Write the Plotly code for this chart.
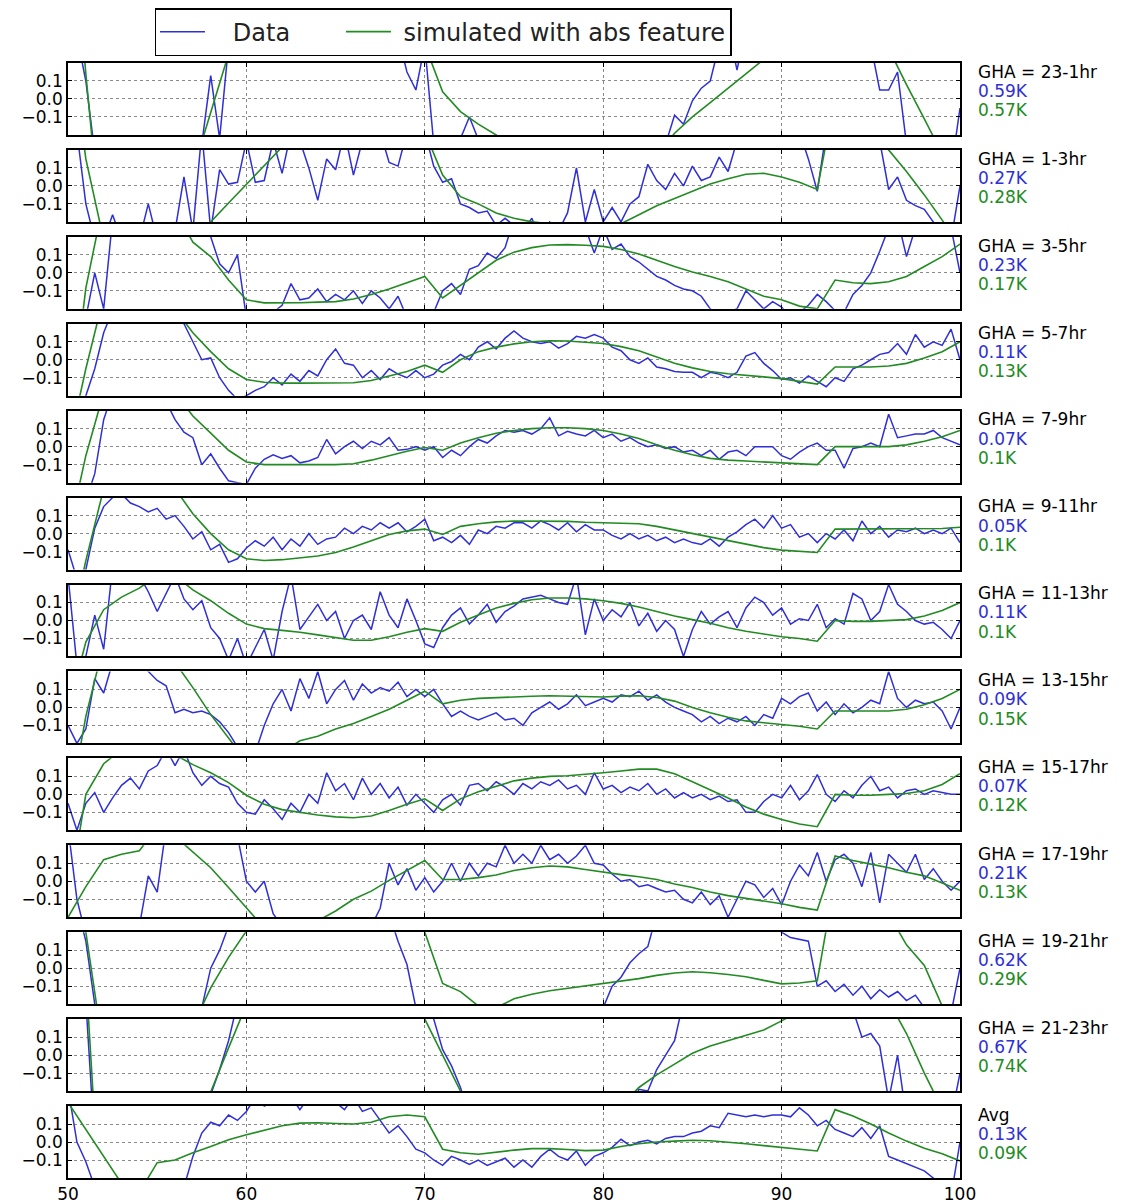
import numpy as np
import plotly.graph_objects as go
from plotly.subplots import make_subplots

# frequency grids (MHz)
freq_data = np.arange(50.0, 100.01, 0.5)
freq_sim = np.arange(50.0, 100.01, 1.0)

panel_labels = ["GHA = 23-1hr", "GHA = 1-3hr", "GHA = 3-5hr", "GHA = 5-7hr", "GHA = 7-9hr",
                "GHA = 9-11hr", "GHA = 11-13hr", "GHA = 13-15hr", "GHA = 15-17hr",
                "GHA = 17-19hr", "GHA = 19-21hr", "GHA = 21-23hr", "Avg"]
data_rms = ["0.59K", "0.27K", "0.23K", "0.11K", "0.07K", "0.05K", "0.11K", "0.09K", "0.07K",
            "0.21K", "0.62K", "0.67K", "0.13K"]
sim_rms = ["0.57K", "0.28K", "0.17K", "0.13K", "0.1K", "0.1K", "0.1K", "0.15K", "0.12K",
           "0.13K", "0.29K", "0.74K", "0.09K"]

# ---- residuals (K), data at 0.5 MHz steps ----
data_23_1 = [0.5, 0.35, 0.1, -0.3, -0.4, -0.4, -0.4, -0.4, -0.4, -0.4,
             -0.4, -0.4, -0.4, -0.4, -0.4, -0.25, 0.13, -0.22, 0.3, 0.4,
             0.4, 0.4, 0.4, 0.4, 0.4, 0.4, 0.4, 0.4, 0.4, 0.4,
             0.4, 0.4, 0.4, 0.4, 0.4, 0.4, 0.4, 0.35, 0.15, 0.05,
             0.3, -0.25, -0.3, -0.28, -0.22, -0.1, -0.25, -0.35, -0.4, -0.4,
             -0.4, -0.4, -0.4, -0.4, -0.4, -0.4, -0.4, -0.4, -0.4, -0.4,
             -0.4, -0.4, -0.4, -0.4, -0.4, -0.4, -0.4, -0.25, -0.09, -0.14,
             -0.01, 0.06, 0.1, 0.3, 0.4, 0.16, 0.4, 0.4, 0.4, 0.4,
             0.4, 0.4, 0.4, 0.4, 0.4, 0.4, 0.4, 0.4, 0.4, 0.4,
             0.3, 0.05, 0.05, 0.15, -0.25, -0.4, -0.4, -0.4, -0.4, -0.4,
             -0.05]
data_1_3 = [0.5, 0.3, -0.1, -0.3, -0.3, -0.16, -0.3, -0.22, -0.3, -0.1,
            -0.3, -0.3, -0.25, 0.05, -0.25, 0.3, -0.25, 0.09, 0.01, 0.02,
            0.25, 0.02, 0.03, 0.25, 0.07, 0.3, 0.25, 0.1, -0.08, 0.15,
            0.09, 0.3, 0.06, 0.25, 0.3, 0.3, 0.13, 0.11, 0.3, 0.25,
            0.3, 0.11, 0.02, 0.04, -0.1, -0.12, -0.15, -0.14, -0.22, -0.18,
            -0.22, -0.25, -0.18, -0.3, -0.2, -0.25, -0.15, 0.1, -0.2, -0.02,
            -0.2, -0.12, -0.2, -0.1, -0.06, 0.12, 0.03, -0.02, 0.07, 0.0,
            0.11, 0.03, 0.05, 0.16, 0.08, 0.25, 0.3, 0.3, 0.3, 0.3,
            0.3, 0.3, 0.3, 0.15, -0.03, 0.3, 0.3, 0.3, 0.3, 0.3,
            0.3, 0.25, -0.02, 0.05, -0.08, -0.11, -0.13, -0.2, -0.25, -0.3,
            0.0]
data_3_5 = [-0.4, -0.3, -0.25, 0.0, -0.2, 0.3, 0.4, 0.4, 0.4, 0.4,
            0.4, 0.4, 0.4, 0.4, 0.4, 0.3, 0.2, 0.05, 0.0, 0.1,
            -0.25, -0.3, -0.3, -0.22, -0.18, -0.06, -0.15, -0.14, -0.09, -0.16,
            -0.12, -0.15, -0.1, -0.17, -0.1, -0.14, -0.2, -0.13, -0.25, -0.3,
            -0.3, -0.22, -0.1, -0.06, -0.12, 0.02, 0.04, 0.11, 0.08, 0.14,
            0.3, 0.3, 0.3, 0.3, 0.3, 0.3, 0.3, 0.3, 0.25, 0.11,
            0.25, 0.13, 0.16, 0.09, 0.06, 0.02, -0.02, -0.04, -0.07, -0.09,
            -0.1, -0.13, -0.2, -0.24, -0.22, -0.2, -0.1, -0.15, -0.2, -0.16,
            -0.19, -0.25, -0.22, -0.18, -0.12, -0.16, -0.21, -0.22, -0.12, -0.07,
            0.0, 0.12, 0.25, 0.3, 0.09, 0.25, 0.3, 0.3, 0.3, 0.25,
            0.0]
data_5_7 = [-0.4, -0.35, -0.2, -0.05, 0.15, 0.3, 0.4, 0.4, 0.4, 0.4,
            0.4, 0.35, 0.3, 0.2, 0.1, 0.0, 0.01, -0.1, -0.17, -0.22,
            -0.2, -0.17, -0.15, -0.1, -0.14, -0.08, -0.12, -0.06, -0.09, 0.0,
            0.06, -0.02, -0.03, -0.1, -0.06, -0.11, -0.05, -0.08, -0.1, -0.06,
            -0.1, -0.08, -0.03, -0.01, 0.03, 0.0, 0.07, 0.1, 0.06, 0.12,
            0.16, 0.12, 0.1, 0.09, 0.1, 0.065, 0.09, 0.13, 0.12, 0.14,
            0.12, 0.07, 0.05, 0.0, -0.02, 0.01, -0.04, -0.05, -0.065, -0.07,
            -0.07, -0.1, -0.07, -0.08, -0.1, -0.07, 0.02, 0.04, -0.02, -0.06,
            -0.11, -0.1, -0.13, -0.09, -0.12, -0.15, -0.1, -0.12, -0.05, -0.03,
            0.0, 0.03, 0.04, 0.09, 0.03, 0.14, 0.07, 0.1, 0.08, 0.17,
            0.0]
data_7_9 = [-0.4, -0.35, -0.3, -0.15, 0.15, 0.3, 0.4, 0.4, 0.4, 0.4,
            0.4, 0.25, 0.15, 0.08, 0.05, -0.1, -0.04, -0.12, -0.19, -0.2,
            -0.21, -0.12, -0.07, -0.045, -0.065, -0.05, -0.09, -0.08, -0.06, 0.04,
            -0.04, 0.0, 0.03, -0.01, 0.03, 0.01, 0.05, -0.02, -0.015, 0.0,
            -0.02, 0.0, -0.06, -0.02, -0.05, 0.0, 0.04, 0.02, 0.06, 0.09,
            0.08, 0.09, 0.07, 0.1, 0.16, 0.06, 0.085, 0.07, 0.06, 0.09,
            0.05, 0.07, 0.03, 0.05, 0.02, 0.0, 0.01, -0.01, 0.0, -0.03,
            -0.02, -0.05, -0.02, -0.07, -0.03, -0.02, -0.05, 0.0, 0.0, 0.0,
            -0.05, -0.07, -0.03, 0.0, 0.02, -0.02, -0.02, -0.12, -0.01, 0.0,
            0.02, 0.0, 0.18, 0.05, 0.06, 0.07, 0.07, 0.09, 0.05, 0.03,
            0.01]
data_9_11 = [-0.09, -0.25, -0.2, 0.03, 0.15, 0.2, 0.22, 0.17, 0.15, 0.12,
             0.14, 0.08, 0.1, 0.04, -0.03, 0.01, -0.09, -0.06, -0.16, -0.14,
             -0.08, -0.04, -0.07, -0.02, -0.09, -0.03, -0.07, 0.0, -0.06, -0.03,
             -0.02, 0.03, 0.0, 0.04, 0.02, 0.06, 0.03, 0.06, 0.01, 0.04,
             0.08, -0.04, -0.02, -0.05, -0.01, -0.06, 0.02, 0.0, 0.04, 0.03,
             0.06, 0.06, 0.03, 0.07, 0.05, 0.02, 0.06, 0.01, 0.05, 0.02,
             0.02, -0.01, -0.03, 0.0, -0.03, -0.01, -0.04, -0.02, -0.05, -0.03,
             -0.05, -0.06, -0.03, -0.07, -0.02, 0.01, 0.05, 0.08, 0.03, 0.1,
             0.03, 0.05, -0.02, 0.0, -0.05, 0.0, -0.03, 0.02, -0.04, 0.07,
             0.0, 0.04, -0.02, 0.02, 0.01, 0.03, 0.0, 0.02, 0.0, 0.03,
             -0.05]
data_11_13 = [0.25, -0.25, -0.2, 0.03, -0.16, 0.3, 0.25, 0.3, 0.25, 0.16,
              0.05, 0.16, 0.25, 0.12, 0.06, 0.11, -0.04, -0.1, -0.22, -0.1,
              -0.25, -0.15, -0.05, -0.22, 0.05, 0.25, -0.05, 0.02, 0.09, 0.0,
              0.05, -0.1, 0.0, 0.03, -0.05, 0.16, 0.03, -0.04, 0.12, 0.0,
              -0.13, -0.15, -0.04, 0.03, 0.07, -0.02, 0.03, 0.09, -0.01, 0.05,
              0.08, 0.12, 0.13, 0.14, 0.12, 0.1, 0.09, 0.25, -0.08, 0.12,
              0.0, 0.06, 0.02, 0.1, -0.03, 0.04, -0.06, 0.0, -0.05, -0.2,
              -0.05, 0.05, -0.02, 0.02, 0.05, -0.04, 0.07, 0.13, 0.1, 0.03,
              0.07, -0.02, 0.01, 0.0, 0.09, -0.04, 0.01, -0.02, 0.15, 0.12,
              0.0, 0.05, 0.2, 0.09, 0.05, 0.0, -0.02, -0.01, -0.05, -0.1,
              0.0]
data_13_15 = [-0.1, -0.2, -0.12, 0.16, 0.08, 0.25, 0.3, 0.3, 0.3, 0.2,
              0.15, 0.12, -0.03, -0.01, -0.03, -0.02, -0.04, -0.08, -0.14, -0.22,
              -0.3, -0.25, -0.1, 0.02, 0.1, -0.02, 0.16, 0.05, 0.2, 0.02,
              0.1, 0.15, 0.04, 0.13, 0.08, 0.11, 0.09, 0.14, 0.06, 0.1,
              0.06, 0.1, 0.02, -0.05, -0.02, -0.05, -0.07, -0.05, -0.03, -0.07,
              -0.06, -0.1, -0.03, 0.0, 0.03, -0.01, 0.02, 0.07, 0.01, 0.03,
              0.05, 0.03, 0.07, 0.06, 0.09, 0.04, 0.07, 0.03, 0.0, -0.02,
              -0.04, -0.08, -0.05, -0.09, -0.06, -0.08, -0.05, -0.1, -0.04, -0.06,
              0.05, 0.02, 0.06, 0.08, -0.02, 0.03, -0.04, 0.02, -0.03, 0.0,
              0.04, 0.02, 0.2, 0.05, 0.0, 0.04, 0.02, 0.03, -0.02, -0.12,
              0.0]
data_15_17 = [-0.05, -0.2, -0.05, 0.01, -0.1, -0.02, 0.05, 0.09, 0.03, 0.13,
              0.16, 0.25, 0.16, 0.25, 0.12, 0.05, 0.1, 0.06, 0.04, -0.05,
              -0.1, -0.11, -0.03, -0.08, -0.14, -0.05, -0.1, 0.0, -0.05, 0.12,
              0.02, 0.06, -0.03, 0.09, 0.0, 0.06, -0.02, 0.04, -0.06, 0.0,
              -0.05, -0.1, -0.03, 0.0, -0.06, 0.05, 0.06, 0.02, 0.07, 0.04,
              0.0, 0.06, 0.03, 0.07, 0.05, 0.08, 0.03, 0.05, 0.0, 0.12,
              0.03, 0.05, 0.01, 0.04, 0.02, 0.06, 0.0, 0.03, -0.02, 0.01,
              -0.02, 0.0, -0.03, -0.01, -0.04, -0.03, -0.1, -0.1, -0.04, 0.0,
              -0.02, 0.05, -0.03, 0.02, 0.11, 0.0, -0.04, 0.02, -0.02, 0.05,
              0.1, 0.02, 0.04, -0.02, 0.02, 0.03, 0.0, 0.02, 0.01, 0.0,
              0.0]
data_17_19 = [0.3, -0.1, -0.3, -0.35, -0.35, -0.35, -0.35, -0.35, -0.25, 0.03,
              -0.06, 0.3, 0.35, 0.35, 0.35, 0.35, 0.35, 0.35, 0.3, 0.25,
              0.0, -0.06, 0.0, -0.18, -0.25, -0.3, -0.3, -0.3, -0.3, -0.3,
              -0.3, -0.3, -0.21, -0.3, -0.25, -0.15, 0.1, -0.02, 0.07, -0.05,
              0.02, -0.06, 0.0, 0.1, 0.0, 0.1, 0.03, 0.1, 0.08, 0.2,
              0.1, 0.15, 0.1, 0.2, 0.12, 0.15, 0.1, 0.14, 0.2, 0.1,
              0.09, 0.04, 0.0, 0.01, -0.03, -0.02, -0.04, -0.06, -0.05, -0.1,
              -0.12, -0.06, -0.13, -0.08, -0.2, -0.1, 0.0, -0.02, -0.09, -0.04,
              -0.13, 0.0, 0.09, 0.03, 0.16, 0.0, 0.12, 0.15, 0.1, -0.03,
              0.16, -0.12, 0.15, 0.1, 0.05, 0.15, 0.01, 0.07, 0.0, -0.05,
              0.0]
data_19_21 = [0.6, 0.35, 0.15, -0.2, -0.5, -0.5, -0.5, -0.5, -0.5, -0.5,
              -0.5, -0.5, -0.5, -0.5, -0.5, -0.22, 0.0, 0.1, 0.25, 0.4,
              0.5, 0.5, 0.5, 0.5, 0.5, 0.5, 0.5, 0.5, 0.5, 0.5,
              0.5, 0.5, 0.5, 0.5, 0.5, 0.5, 0.3, 0.15, 0.02, -0.22,
              -0.5, -0.5, -0.5, -0.5, -0.5, -0.5, -0.5, -0.5, -0.5, -0.5,
              -0.5, -0.5, -0.5, -0.5, -0.5, -0.5, -0.5, -0.5, -0.5, -0.5,
              -0.22, -0.1, -0.05, 0.03, 0.08, 0.12, 0.3, 0.5, 0.5, 0.5,
              0.5, 0.5, 0.5, 0.5, 0.5, 0.5, 0.5, 0.5, 0.3, 0.25,
              0.2, 0.17, 0.16, 0.15, -0.1, -0.07, -0.13, -0.09, -0.15, -0.1,
              -0.17, -0.12, -0.16, -0.13, -0.18, -0.15, -0.22, -0.3, -0.3, -0.25,
              0.0]
data_21_23 = [1.0, 0.6, 0.3, -0.5, -0.5, -0.5, -0.5, -0.5, -0.5, -0.5,
              -0.5, -0.5, -0.5, -0.5, -0.5, -0.5, -0.22, -0.08, 0.08, 0.25,
              0.5, 0.5, 0.5, 0.5, 0.5, 0.5, 0.5, 0.5, 0.5, 0.5,
              0.5, 0.5, 0.5, 0.5, 0.5, 0.5, 0.5, 0.5, 0.5, 0.5,
              0.35, 0.2, 0.03, -0.06, -0.18, -0.35, -0.5, -0.5, -0.5, -0.5,
              -0.5, -0.5, -0.5, -0.5, -0.5, -0.5, -0.5, -0.5, -0.5, -0.5,
              -0.5, -0.5, -0.5, -0.3, -0.19, -0.2, -0.08, 0.0, 0.08, 0.3,
              0.5, 0.5, 0.5, 0.5, 0.5, 0.5, 0.5, 0.5, 0.5, 0.5,
              0.5, 0.5, 0.5, 0.5, 0.5, 0.5, 0.5, 0.5, 0.25, 0.1,
              0.12, 0.05, -0.25, 0.0, -0.35, -0.35, -0.35, -0.35, -0.35, -0.35,
              -0.1]
data_avg = [0.3, 0.0, -0.11, -0.25, -0.3, -0.3, -0.3, -0.3, -0.3, -0.3,
            -0.3, -0.3, -0.3, -0.25, -0.08, 0.05, 0.11, 0.09, 0.15, 0.12,
            0.17, 0.25, 0.2, 0.22, 0.3, 0.25, 0.18, 0.25, 0.22, 0.3,
            0.22, 0.18, 0.25, 0.17, 0.19, 0.12, 0.05, 0.09, 0.03, -0.04,
            -0.06, -0.1, -0.13, -0.08, -0.1, -0.125, -0.1, -0.13, -0.11, -0.09,
            -0.14, -0.1, -0.14, -0.08, -0.04, -0.08, -0.1, -0.05, -0.13, -0.08,
            -0.06, -0.03, 0.015, -0.02, 0.0, 0.01, -0.01, 0.02, 0.03, 0.03,
            0.05, 0.06, 0.09, 0.08, 0.16, 0.15, 0.14, 0.15, 0.14, 0.15,
            0.15, 0.14, 0.19, 0.15, 0.09, 0.12, 0.07, 0.05, 0.03, 0.08,
            0.02, 0.09, -0.08, -0.1, -0.12, -0.14, -0.16, -0.2, -0.25, -0.3,
            0.0]

# ---- simulated residuals (K), 1 MHz steps ----
sim_23_1 = [1.3, 0.14, -0.9, -1.2, -1.3, -1.2, -0.9, -0.4, -0.07, 0.25,
            0.5, 0.7, 0.8, 0.9, 0.9, 0.9, 0.8, 0.7, 0.5, 0.35,
            0.3, 0.04, -0.07, -0.14, -0.2, -0.27, -0.35, -0.42, -0.48, -0.5,
            -0.5, -0.48, -0.42, -0.32, -0.19, -0.1, -0.02, 0.06, 0.14, 0.22,
            0.3, 0.35, 0.45, 0.5, 0.5, 0.45, 0.28, 0.08, -0.11, -0.3,
            -0.5]
sim_1_3 = [0.9, 0.15, -0.3, -0.6, -0.7, -0.7, -0.6, -0.4, -0.2, -0.095,
           0.01, 0.115, 0.22, 0.32, 0.4, 0.45, 0.45, 0.42, 0.38, 0.33,
           0.3, 0.06, -0.06, -0.1, -0.15, -0.18, -0.2, -0.21, -0.21, -0.21,
           -0.22, -0.21, -0.16, -0.11, -0.07, -0.03, 0.01, 0.04, 0.065, 0.07,
           0.05, 0.02, -0.02, 0.5, 0.45, 0.3, 0.2, 0.08, -0.05, -0.19,
           -0.33]
sim_3_5 = [-0.9, -0.085, 0.4, 0.7, 0.8, 0.6, 0.35, 0.17, 0.09, -0.04,
           -0.15, -0.167, -0.168, -0.166, -0.163, -0.16, -0.145, -0.12, -0.09, -0.055,
           -0.02, -0.14, -0.07, 0.0, 0.07, 0.115, 0.14, 0.155, 0.157, 0.153,
           0.147, 0.13, 0.105, 0.07, 0.035, 0.005, -0.02, -0.05, -0.09, -0.13,
           -0.15, -0.185, -0.2, -0.04, -0.055, -0.06, -0.05, -0.02, 0.035, 0.09,
           0.16]
sim_5_7 = [-0.5, -0.05, 0.35, 0.6, 0.6, 0.45, 0.28, 0.15, 0.045, -0.05,
           -0.11, -0.125, -0.13, -0.13, -0.13, -0.13, -0.128, -0.115, -0.09, -0.065,
           -0.03, -0.07, 0.0, 0.045, 0.07, 0.088, 0.1, 0.105, 0.104, 0.098,
           0.09, 0.073, 0.05, 0.015, -0.02, -0.045, -0.065, -0.078, -0.085, -0.095,
           -0.105, -0.12, -0.135, -0.04, -0.04, -0.04, -0.035, -0.02, 0.01, 0.045,
           0.1]
sim_7_9 = [-0.5, -0.05, 0.3, 0.5, 0.55, 0.45, 0.3, 0.17, 0.075, -0.02,
           -0.085, -0.1, -0.1, -0.1, -0.1, -0.1, -0.095, -0.075, -0.05, -0.025,
           -0.005, -0.02, 0.02, 0.05, 0.075, 0.09, 0.1, 0.105, 0.105, 0.1,
           0.09, 0.07, 0.045, 0.01, -0.02, -0.045, -0.065, -0.075, -0.08, -0.085,
           -0.09, -0.095, -0.1, 0.0, 0.0, 0.0, 0.0, 0.01, 0.03, 0.055,
           0.09]
sim_9_11 = [-0.6, -0.15, 0.25, 0.5, 0.55, 0.45, 0.25, 0.11, 0.0, -0.09,
            -0.14, -0.15, -0.145, -0.135, -0.125, -0.105, -0.075, -0.04, -0.005, 0.015,
            0.025, -0.005, 0.04, 0.055, 0.065, 0.07, 0.07, 0.07, 0.068, 0.063,
            0.06, 0.06, 0.055, 0.04, 0.02, 0.0, -0.02, -0.04, -0.06, -0.078,
            -0.092, -0.1, -0.105, 0.025, 0.025, 0.025, 0.025, 0.025, 0.025, 0.028,
            0.035]
sim_11_13 = [-0.5, -0.12, 0.06, 0.13, 0.18, 0.25, 0.25, 0.17, 0.11, 0.04,
             -0.02, -0.045, -0.055, -0.065, -0.08, -0.095, -0.11, -0.11, -0.09, -0.065,
             -0.045, -0.06, -0.01, 0.03, 0.07, 0.095, 0.115, 0.125, 0.125, 0.12,
             0.11, 0.095, 0.075, 0.05, 0.025, 0.005, -0.015, -0.04, -0.06, -0.075,
             -0.09, -0.1, -0.115, 0.0, -0.005, -0.005, 0.0, 0.005, 0.025, 0.055,
             0.1]
sim_13_15 = [-0.6, -0.05, 0.35, 0.6, 0.6, 0.45, 0.25, 0.11, -0.04, -0.17,
             -0.3, -0.33, -0.25, -0.185, -0.16, -0.12, -0.09, -0.05, -0.01, 0.04,
             0.09, 0.02, 0.04, 0.05, 0.055, 0.06, 0.062, 0.065, 0.063, 0.058,
             0.058, 0.063, 0.065, 0.055, 0.035, 0.0, -0.03, -0.055, -0.075, -0.085,
             -0.095, -0.105, -0.12, -0.02, -0.02, -0.02, -0.02, -0.01, 0.015, 0.05,
             0.1]
sim_15_17 = [-0.6, 0.0, 0.17, 0.25, 0.3, 0.28, 0.22, 0.165, 0.12, 0.065,
             -0.005, -0.055, -0.085, -0.1, -0.115, -0.125, -0.13, -0.12, -0.09, -0.055,
             -0.025, -0.09, -0.025, 0.015, 0.045, 0.075, 0.09, 0.1, 0.103, 0.11,
             0.12, 0.13, 0.14, 0.14, 0.115, 0.07, 0.025, -0.02, -0.07, -0.11,
             -0.14, -0.165, -0.18, 0.0, -0.005, -0.005, 0.0, 0.005, 0.02, 0.055,
             0.115]
sim_17_19 = [-0.2, -0.03, 0.12, 0.15, 0.17, 0.3, 0.25, 0.16, 0.075, -0.035,
             -0.15, -0.26, -0.3, -0.28, -0.22, -0.165, -0.1, -0.055, 0.005, 0.06,
             0.115, 0.01, 0.01, 0.02, 0.035, 0.06, 0.075, 0.085, 0.08, 0.065,
             0.05, 0.037, 0.025, 0.01, -0.015, -0.035, -0.06, -0.08, -0.095, -0.11,
             -0.125, -0.145, -0.16, 0.14, 0.115, 0.095, 0.075, 0.05, 0.03, -0.01,
             -0.05]
sim_19_21 = [0.8, 0.2, -0.47, -0.9, -1.0, -0.9, -0.7, -0.32, -0.11, 0.06,
             0.21, 0.4, 0.5, 0.6, 0.65, 0.7, 0.7, 0.65, 0.55, 0.4,
             0.2, -0.085, -0.13, -0.21, -0.22, -0.17, -0.145, -0.125, -0.112, -0.1,
             -0.088, -0.073, -0.058, -0.04, -0.027, -0.02, -0.025, -0.035, -0.048, -0.068,
             -0.087, -0.082, -0.07, 0.5, 0.6, 0.5, 0.3, 0.13, 0.015, -0.21,
             -0.45]
sim_21_23 = [1.3, 0.45, -1.2, -1.6, -1.6, -1.4, -1.0, -0.45, -0.2, 0.04,
             0.28, 0.5, 0.6, 0.7, 0.7, 0.7, 0.65, 0.6, 0.5, 0.4,
             0.2, 0.0, -0.2, -0.38, -0.5, -0.55, -0.6, -0.6, -0.55, -0.5,
             -0.4, -0.28, -0.18, -0.11, -0.05, 0.01, 0.05, 0.08, 0.11, 0.14,
             0.19, 0.25, 0.3, 0.4, 0.5, 0.45, 0.3, 0.12, -0.1, -0.3,
             -0.5]
sim_avg = [0.22, 0.07, -0.08, -0.23, -0.28, -0.115, -0.1, -0.06, -0.025, 0.012,
           0.04, 0.065, 0.09, 0.105, 0.107, 0.103, 0.1, 0.11, 0.14, 0.15,
           0.14, -0.04, -0.06, -0.068, -0.055, -0.045, -0.037, -0.037, -0.042, -0.048,
           -0.045, -0.025, -0.01, 0.0, 0.005, 0.01, 0.007, 0.0, -0.01, -0.02,
           -0.03, -0.04, -0.05, 0.18, 0.145, 0.1, 0.05, 0.005, -0.035, -0.065,
           -0.105]

data_series = [data_23_1, data_1_3, data_3_5, data_5_7, data_7_9, data_9_11, data_11_13,
               data_13_15, data_15_17, data_17_19, data_19_21, data_21_23, data_avg]
sim_series = [sim_23_1, sim_1_3, sim_3_5, sim_5_7, sim_7_9, sim_9_11, sim_11_13,
              sim_13_15, sim_15_17, sim_17_19, sim_19_21, sim_21_23, sim_avg]

BLUE = "#2f2fd8"
GREEN = "#228b22"
FONT = "DejaVu Sans"
NB = "\u00a0"
N = len(panel_labels)

fig = make_subplots(rows=N, cols=1, shared_xaxes=True, vertical_spacing=0.0134)

for i in range(N):
    fig.add_trace(go.Scatter(x=freq_data, y=data_series[i], mode="lines",
                             line=dict(color=BLUE, width=1.5),
                             name=NB * 3 + "Data" + NB * 6,
                             legendgroup="data", showlegend=(i == 0)), row=i + 1, col=1)
    fig.add_trace(go.Scatter(x=freq_sim, y=sim_series[i], mode="lines",
                             line=dict(color=GREEN, width=1.6),
                             name=NB + "simulated with abs feature",
                             legendgroup="sim", showlegend=(i == 0)), row=i + 1, col=1)
    yref = "y domain" if i == 0 else f"y{i + 1} domain"
    for txt, col, yy in [(panel_labels[i], "black", 0.878), (data_rms[i], BLUE, 0.612),
                         (sim_rms[i], GREEN, 0.346)]:
        fig.add_annotation(text=txt, x=1.019, xref="paper", y=yy, yref=yref,
                           xanchor="left", yanchor="middle", showarrow=False, borderpad=0,
                           font=dict(family=FONT, size=17, color=col))

fig.update_xaxes(range=[50, 100], tick0=50, dtick=10, showgrid=True, gridcolor="#8a8a8a",
                 griddash="dot", gridwidth=1, showline=True, linecolor="black", linewidth=1.6,
                 mirror="ticks", ticks="inside", ticklen=4, tickcolor="black", zeroline=False,
                 tickfont=dict(family=FONT, size=17, color="black"))
fig.update_yaxes(range=[-0.2, 0.2], tickvals=[-0.1, 0.0, 0.1], tickformat=".1f", showgrid=True,
                 gridcolor="#8a8a8a", griddash="dot", gridwidth=1, showline=True,
                 linecolor="black", linewidth=1.6, mirror="ticks", ticks="inside", ticklen=4,
                 tickcolor="black", zeroline=False,
                 tickfont=dict(family=FONT, size=17, color="black"))

fig.update_layout(
    width=1133, height=1203,
    margin=dict(l=68, r=173, t=63, b=25, autoexpand=False),
    paper_bgcolor="white", plot_bgcolor="white",
    font=dict(family=FONT, size=16, color="black"),
    legend=dict(orientation="h", x=0.0975, y=1.0493, xanchor="left", yanchor="top",
                bordercolor="black", borderwidth=1.5, bgcolor="white",
                font=dict(family=FONT, size=24, color="#222222"), itemwidth=45),
)

fig.write_html("out.html")
